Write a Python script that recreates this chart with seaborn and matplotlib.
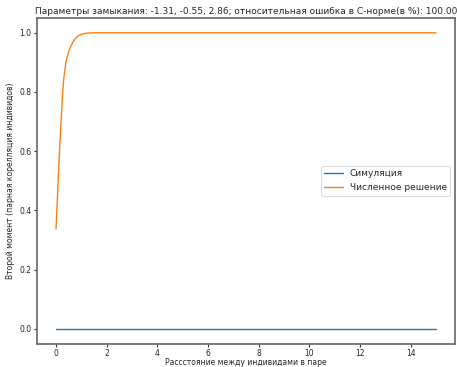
import matplotlib
matplotlib.use("Agg")
import matplotlib.pyplot as plt
import seaborn as sns
import pandas as pd

sns.set_style("ticks")
plt.rcParams['font.family'] = ['DejaVu Sans']

title = "Параметры замыкания: -1.31, -0.55, 2.86; относительная ошибка в C-норме(в %): 100.00"
xlabel = "Рассстояние между индивидами в паре"
ylabel = "Второй момент (парная корелляция индивидов)"

sim_x = [0, 15]
sim_y = [0.0, 0.0]

num_x = [0, 0.05, 0.1, 0.15, 0.2, 0.25, 0.3, 0.4, 0.5, 0.6, 0.7, 0.8, 0.9, 1.0, 1.2, 1.5, 2.0, 15.0]
num_y = [0.337, 0.43, 0.53, 0.62, 0.70, 0.78, 0.84, 0.905, 0.937, 0.958, 0.973, 0.984, 0.991, 0.995, 0.999, 1.0, 1.0, 1.0]

df = pd.concat([
    pd.DataFrame({"x": sim_x, "y": sim_y, "s": "Симуляция"}),
    pd.DataFrame({"x": num_x, "y": num_y, "s": "Численное решение"}),
])

fig = plt.figure(figsize=(4.57, 3.67), dpi=100)
ax = fig.add_axes([37/457, 1-343.5/367, (455-37)/457, (343.5-18)/367])
pal = ["#1f77b4", "#ff7f0e"]
sns.lineplot(data=df, x="x", y="y", hue="s", palette=pal, ax=ax, linewidth=1.0, sort=False)
ax.set_xlim(-0.75, 15.75)
ax.set_ylim(-0.05, 1.05)
ax.set_xticks(range(0, 15, 2))
ax.set_yticks([0, 0.2, 0.4, 0.6, 0.8, 1.0])
ax.tick_params(labelsize=5.5, length=2.5, width=0.8, color="#333333", pad=1.5)
for sp in ax.spines.values():
    sp.set_visible(True)
    sp.set_color("#666666")
    sp.set_linewidth(1.2)
ax.set_title(title, fontsize=6.5, pad=3)
ax.set_xlabel(xlabel, fontsize=5.5, labelpad=0)
ax.set_ylabel(ylabel, fontsize=5.5, labelpad=3)
leg = ax.legend(loc="center right", fontsize=6.5, frameon=True, title=None)
leg.get_frame().set_linewidth(0.6)
fig.savefig("out.png", dpi=100)
